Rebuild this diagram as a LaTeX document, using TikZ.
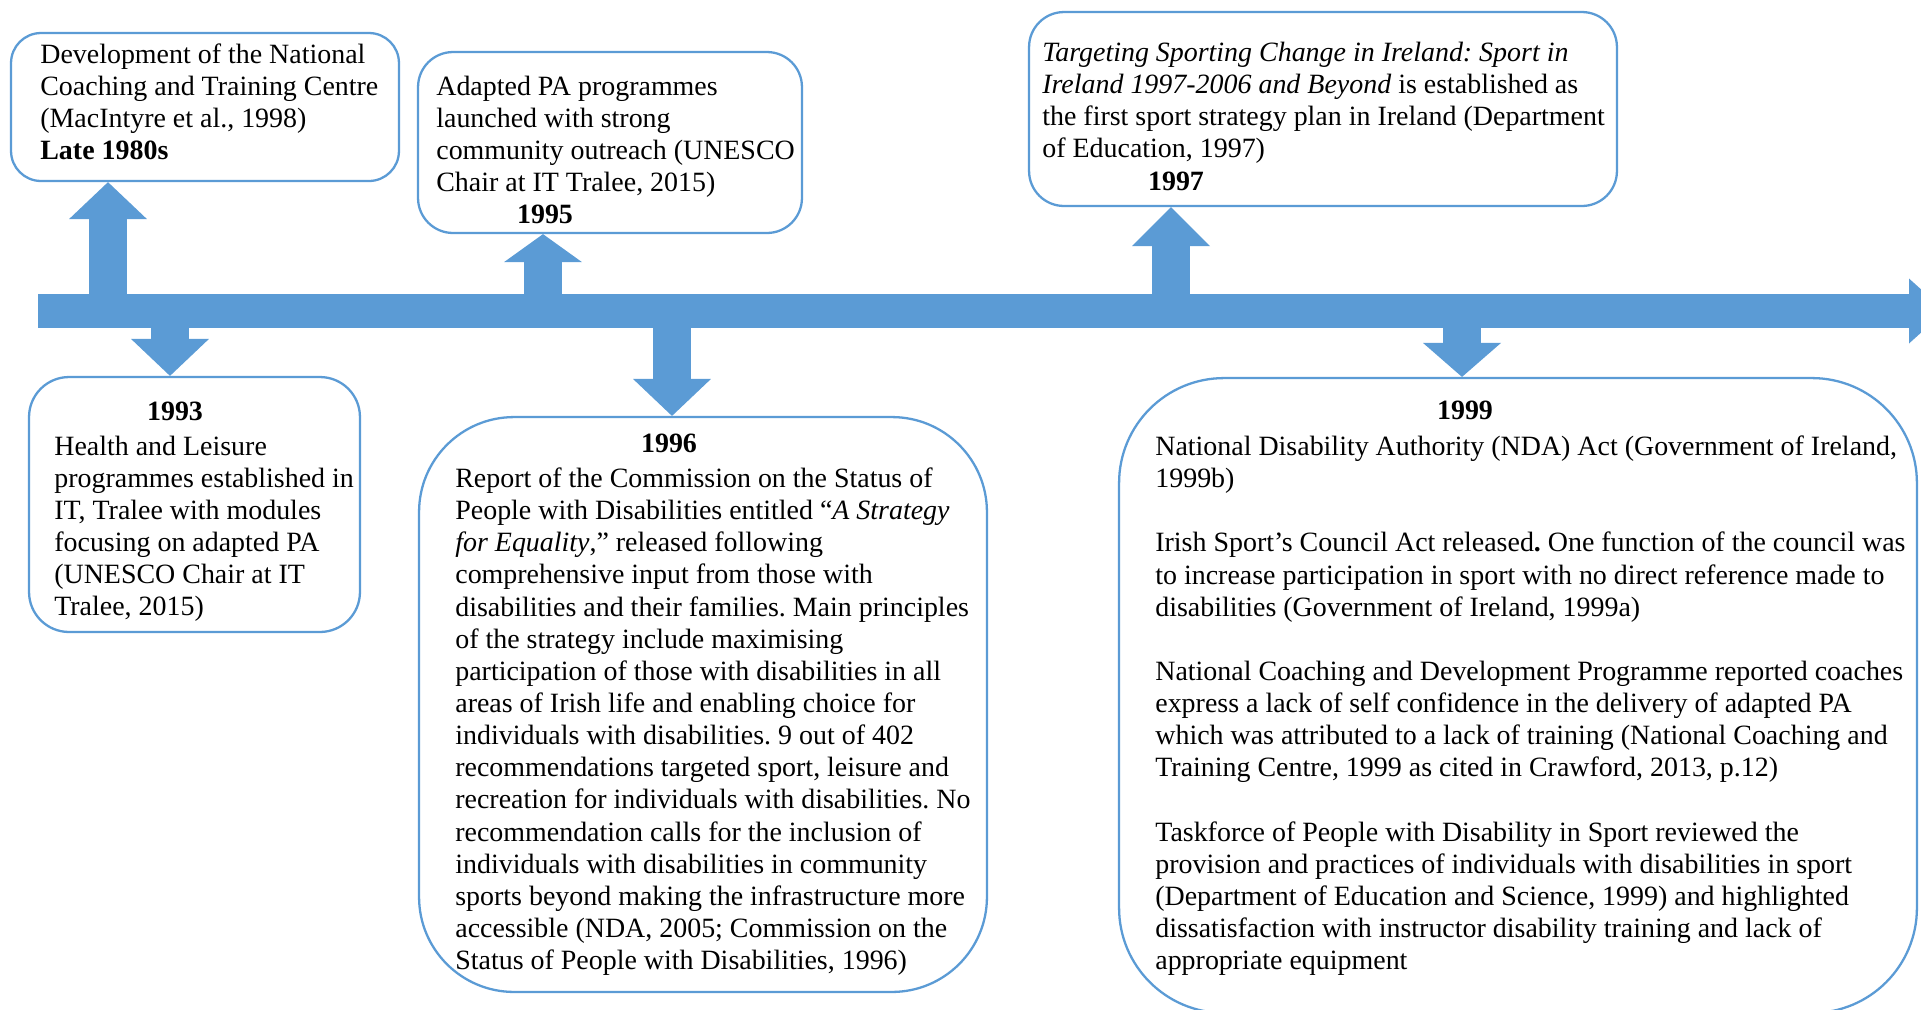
\documentclass[tikz,border=0pt]{standalone}
\usepackage{fontspec}
\setmainfont{Liberation Serif}
\usetikzlibrary{arrows.meta}
\definecolor{tlblue}{HTML}{5B9BD5}
\frenchspacing

\begin{document}
\begin{tikzpicture}[x=0.02cm,y=-0.02cm,
  evbox/.style={draw=tlblue,line width=1.3pt,fill=white,rounded corners=#1},
  evtext/.style={anchor=north west,inner sep=0pt,align=left,font=\fontsize{15.9}{18.3}\selectfont,execute at begin node=\strut},
  evyear/.style={anchor=base,inner sep=0pt,font=\fontsize{15.9}{18.3}\selectfont\bfseries},
  blockarr/.style={draw=tlblue,line width=0.76cm,-{Triangle[width=1.56cm,length=#1,line width=0pt]}},
  blockarr/.default=0.74cm]
\useasboundingbox (0,0) rectangle (1921,1009);

% event boxes
\node[evbox=0.6cm,minimum width=7.76cm,minimum height=2.96cm] (b80) at (205,107) {};
\node[evbox=0.8cm,minimum width=6.62cm,minimum height=5.1cm] (b93) at (194.5,504.5) {};
\node[evbox=0.7cm,minimum width=7.68cm,minimum height=3.62cm] (b95) at (610,142.5) {};
\node[evbox=1.9cm,minimum width=11.36cm,minimum height=11.5cm] (b96) at (703,704.5) {};
\node[evbox=0.7cm,minimum width=11.76cm,minimum height=3.88cm] (b97) at (1323,109) {};
\node[evbox=2.1cm,minimum width=15.96cm,minimum height=12.7cm] (b99) at (1518,695.5) {};

% timeline
\coordinate (tl0) at (38,311);
\coordinate (tl1) at (1945,311);
\draw[draw=tlblue,line width=0.68cm,-{Triangle[width=1.3cm,length=0.72cm,line width=0pt]}] (tl0) -- (tl1);

% arrows to the boxes
\coordinate (a80) at (108,311);
\coordinate (a93) at (170,311);
\coordinate (a95) at (543,311);
\coordinate (a96) at (672,311);
\coordinate (a97) at (1171,311);
\coordinate (a99) at (1462,311);
\draw[blockarr] (a80) -- (a80 |- b80.south);
\draw[blockarr] (a93) -- (a93 |- b93.north);
\draw[blockarr=0.56cm] (a95) -- (a95 |- b95.south);
\draw[blockarr] (a96) -- (a96 |- b96.north);
\draw[blockarr=0.78cm] (a97) -- (a97 |- b97.south);
\draw[blockarr=0.68cm] (a99) -- (a99 |- b99.north);

% texts
\node[evtext] (t80) at (40,43.4) {Development of the National\\Coaching and Training Centre\\(MacIntyre et al., 1998)\\\textbf{Late 1980s}};

\node[evyear] (y93) at (175,420) {1993};
\node[evtext] (t93) at (54,435.4) {Health and Leisure\\programmes established in\\IT, Tralee with modules\\focusing on adapted PA\\(UNESCO Chair at IT\\Tralee, 2015)};

\node[evtext] (t95) at (436,75.4) {Adapted PA programmes\\launched with strong\\community outreach (UNESCO\\Chair at IT Tralee, 2015)};
\node[evyear] (y95) at (545,223) {1995};

\node[evyear] (y96) at (669,452) {1996};
\node[evtext] (t96) at (455,467.4) {Report of the Commission on the Status of\\People with Disabilities entitled “\textit{A Strategy}\\\textit{for Equality},” released following\\comprehensive input from those with\\disabilities and their families. Main principles\\of the strategy include maximising\\participation of those with disabilities in all\\areas of Irish life and enabling choice for\\individuals with disabilities. 9 out of 402\\recommendations targeted sport, leisure and\\recreation for individuals with disabilities. No\\recommendation calls for the inclusion of\\individuals with disabilities in community\\sports beyond making the infrastructure more\\accessible (NDA, 2005; Commission on the\\Status of People with Disabilities, 1996)};

\node[evtext] (t97) at (1042,41.4) {\textit{Targeting Sporting Change in Ireland: Sport in}\\\textit{Ireland 1997-2006 and Beyond} is established as\\the first sport strategy plan in Ireland (Department\\of Education, 1997)};
\node[evyear] (y97) at (1176,190.5) {1997};

\node[evyear] (y99) at (1465,419.5) {1999};
\node[evtext] (t99) at (1155,435.4) {National Disability Authority (NDA) Act (Government of Ireland,\\1999b)\\[18.3pt]Irish Sport’s Council Act released\textbf{.} One function of the council was\\to increase participation in sport with no direct reference made to\\disabilities (Government of Ireland, 1999a)\\[18.3pt]National Coaching and Development Programme reported coaches\\express a lack of self confidence in the delivery of adapted PA\\which was attributed to a lack of training (National Coaching and\\Training Centre, 1999 as cited in Crawford, 2013, p.12)\\[18.3pt]Taskforce of People with Disability in Sport reviewed the\\provision and practices of individuals with disabilities in sport\\(Department of Education and Science, 1999) and highlighted\\dissatisfaction with instructor disability training and lack of\\appropriate equipment};
\end{tikzpicture}
\end{document}
